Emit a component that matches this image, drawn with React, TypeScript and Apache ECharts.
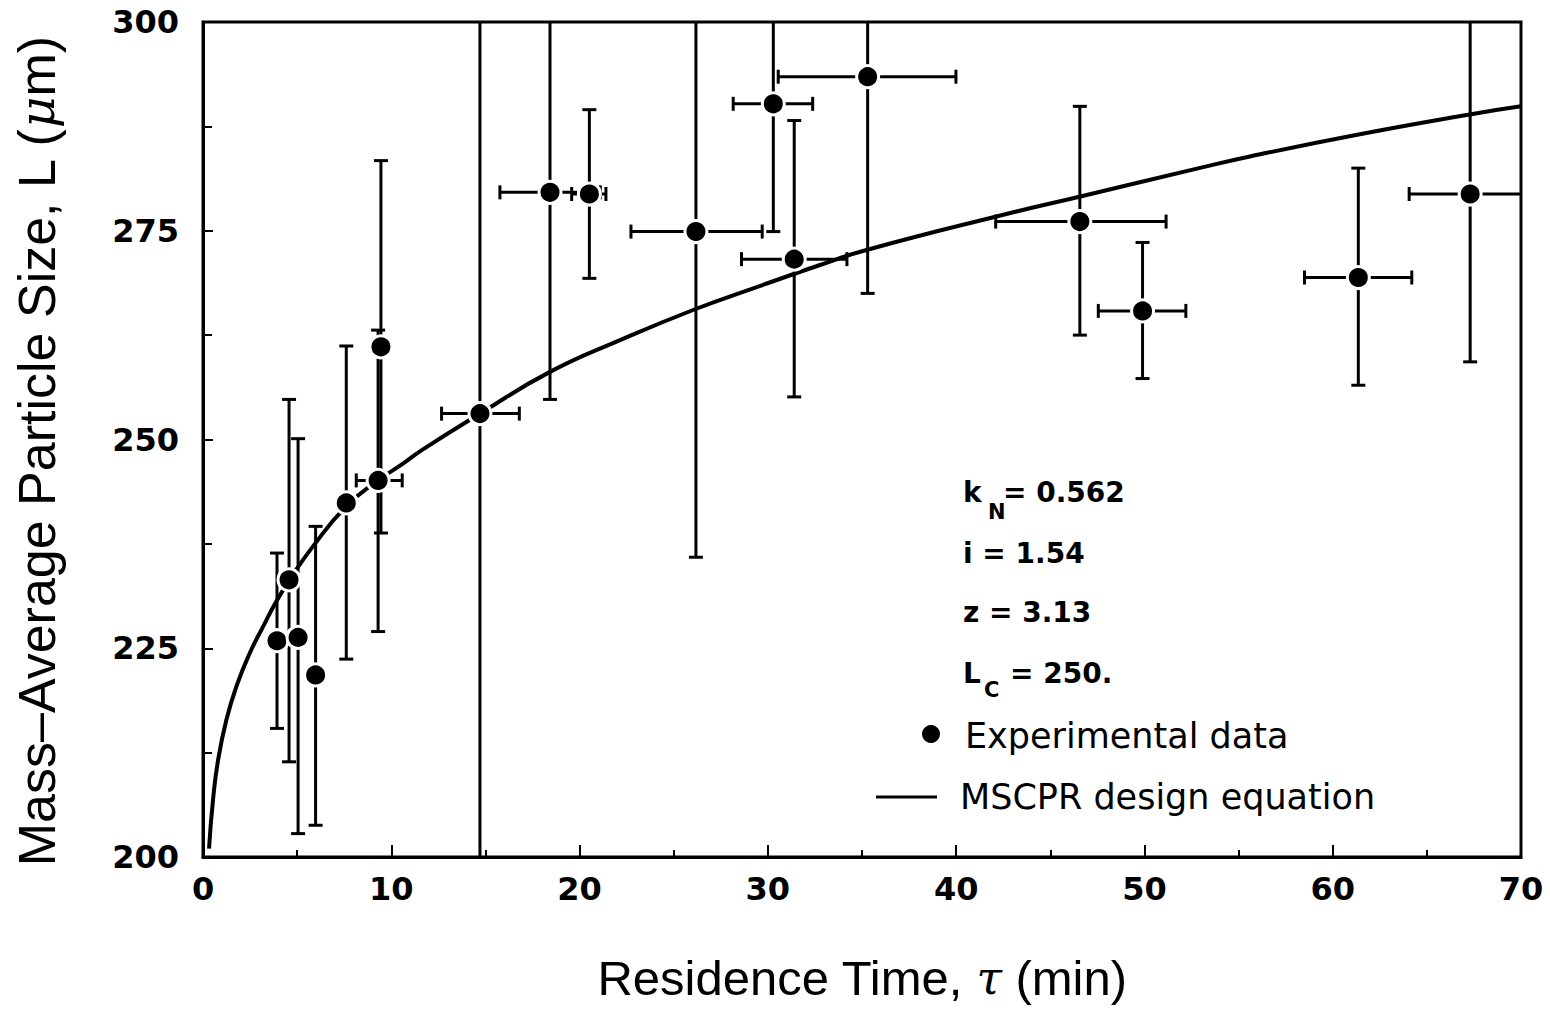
import React, { useEffect, useRef } from "react";
import * as echarts from "echarts";

// Experimental data: residence time (min) and mass-average particle size (µm)
const tau = [3.93, 4.57, 5.05, 5.98, 7.61, 9.3, 9.45, 14.71, 18.43, 20.52, 26.18, 30.29, 31.4, 35.3, 46.57, 49.9, 61.36, 67.3];
const sizeL = [225.9, 233.2, 226.3, 221.8, 242.4, 245.1, 261.1, 253.1, 279.6, 279.4, 274.9, 290.2, 271.6, 293.45, 276.1, 265.4, 269.4, 279.4];
// vertical error bars (low / high)
const sizeLo = [215.4, 211.4, 202.8, 203.8, 223.7, 227.0, 238.8, 193.0, 254.8, 269.3, 235.9, 274.9, 255.1, 267.5, 262.5, 257.3, 256.5, 259.3];
const sizeHi = [236.4, 254.8, 250.1, 239.6, 261.2, 263.1, 283.4, 313.0, 304.4, 289.5, 313.9, 305.5, 288.2, 319.4, 289.9, 273.6, 282.5, 301.0];
// horizontal error bars (low / high), null = none
const tauLo = [null, null, null, null, null, 8.14, null, 12.67, 15.77, 19.58, 22.73, 28.16, 28.6, 30.55, 42.1, 47.55, 58.5, 64.06];
const tauHi = [null, null, null, null, null, 10.58, null, 16.8, 21.1, 21.4, 29.7, 32.38, 34.2, 39.99, 51.15, 52.2, 64.2, 70.54];

// MSCPR design equation curve
const curveTau = [0.32, 0.53, 0.8, 1.24, 1.77, 2.48, 3.19, 3.89, 4.6, 5.84, 7.61, 9.29, 10.62, 11.6, 14.71, 18.43, 22.15, 26.13, 29.22, 32.77, 35.24, 42.3, 46.6, 52.9, 55.6, 61.3, 67.2, 70];
const curveL = [201.0, 206.8, 211.6, 216.4, 220.4, 224.4, 227.6, 230.6, 233.2, 237.2, 242.0, 245.1, 247.1, 248.7, 253.1, 258.1, 261.9, 265.6, 268.1, 270.9, 272.7, 276.8, 279.1, 282.5, 283.9, 286.5, 288.9, 289.9];

const xTicks = { min: 0, max: 70, interval: 10 };
const yTicks = { min: 200, max: 300, interval: 25 };

const paramLines = ["0.562", "1.54", "3.13", "250."];

const SANS = "Liberation Sans, Arial, sans-serif";
const BOLD = "DejaVu Sans, sans-serif";

export default function App() {
  const ref = useRef<HTMLDivElement>(null);
  useEffect(() => {
    if (!ref.current) return;
    const chart = echarts.init(ref.current, undefined, { renderer: "svg" });
    const capHalf = 7;
    const lw = 3;
    const annot = (text: string, x: number, y: number, size = 28) => ({
      type: "text",
      x,
      y,
      style: { text, fontFamily: BOLD, fontWeight: "bold", fontSize: size, fill: "#000", textVerticalAlign: "middle", verticalAlign: "middle" },
    });
    const option: any = {
      animation: false,
      backgroundColor: "#ffffff",
      grid: {
        left: 203,
        right: 29,
        top: 22,
        bottom: 154,
        show: true,
        borderColor: "#000",
        borderWidth: 3,
        containLabel: false,
      },
      xAxis: {
        type: "value",
        min: xTicks.min,
        max: xTicks.max,
        interval: xTicks.interval,
        name: "Residence Time, {it|τ} (min)",
        nameLocation: "middle",
        nameGap: 96,
        nameTextStyle: {
          fontFamily: SANS,
          fontSize: 49,
          color: "#000",
          rich: { it: { fontFamily: "DejaVu Serif, serif", fontStyle: "italic", fontSize: 46, color: "#000" } },
        },
        axisLine: { show: true, lineStyle: { color: "#000", width: 3 } },
        axisTick: { show: true, inside: true, length: 12, lineStyle: { color: "#000", width: 2 } },
        minorTick: { show: true, splitNumber: 2, length: 7, lineStyle: { color: "#000", width: 2 } },
        axisLabel: { margin: 16, fontFamily: BOLD, fontWeight: "bold", fontSize: 32, color: "#000" },
        splitLine: { show: false },
      },
      yAxis: {
        type: "value",
        min: yTicks.min,
        max: yTicks.max,
        interval: yTicks.interval,
        name: "Mass–Average Particle Size, L ({it|μ}m)",
        nameLocation: "middle",
        nameGap: 140,
        nameTextStyle: {
          fontFamily: SANS,
          fontSize: 52,
          color: "#000",
          padding: [0, 24, 0, 0],
          rich: { it: { fontFamily: "DejaVu Serif, serif", fontStyle: "italic", fontSize: 49, color: "#000" } },
        },
        axisLine: { show: true, lineStyle: { color: "#000", width: 3 } },
        axisTick: { show: true, inside: true, length: 10, lineStyle: { color: "#000", width: 2 } },
        minorTick: { show: true, splitNumber: 2, length: 9, lineStyle: { color: "#000", width: 2 } },
        axisLabel: { margin: 24, fontFamily: BOLD, fontWeight: "bold", fontSize: 32, color: "#000" },
        splitLine: { show: false },
      },
      series: [
        {
          name: "MSCPR design equation",
          type: "line",
          data: curveTau.map((t, i) => [t, curveL[i]]),
          smooth: 0.5,
          showSymbol: false,
          symbol: "none",
          lineStyle: { color: "#000", width: 4 },
          z: 2,
        },
        {
          name: "error bars",
          type: "custom",
          clip: true,
          data: tau.map((t, i) => [t, sizeL[i]]),
          renderItem: (params: any, api: any) => {
            const i = params.dataIndex;
            const children: any[] = [];
            const line = (x1: number, y1: number, x2: number, y2: number) =>
              children.push({
                type: "line",
                shape: { x1, y1, x2, y2 },
                style: { stroke: "#000", lineWidth: lw },
              });
            const bot = api.coord([tau[i], sizeLo[i]]);
            const top = api.coord([tau[i], sizeHi[i]]);
            line(bot[0], bot[1], top[0], top[1]);
            line(bot[0] - capHalf, bot[1], bot[0] + capHalf, bot[1]);
            line(top[0] - capHalf, top[1], top[0] + capHalf, top[1]);
            if (tauLo[i] != null && tauHi[i] != null) {
              const l = api.coord([tauLo[i], sizeL[i]]);
              const r = api.coord([tauHi[i], sizeL[i]]);
              line(l[0], l[1], r[0], r[1]);
              line(l[0], l[1] - capHalf, l[0], l[1] + capHalf);
              line(r[0], r[1] - capHalf, r[0], r[1] + capHalf);
            }
            return { type: "group", children };
          },
          z: 3,
        },
        {
          name: "Experimental data",
          type: "scatter",
          data: tau.map((t, i) => [t, sizeL[i]]),
          symbol: "circle",
          symbolSize: 22,
          itemStyle: { color: "#000", opacity: 1, borderColor: "#fff", borderWidth: 3 },
          z: 4,
        },
      ],
      graphic: [
        // parameter annotations
        annot("k", 963, 492),
        annot("N", 988, 512, 21),
        annot("= " + paramLines[0], 1003, 492),
        annot("i = " + paramLines[1], 963, 553),
        annot("z = " + paramLines[2], 963, 612),
        annot("L", 963, 673),
        annot("C", 984, 690, 21),
        annot("= " + paramLines[3], 1010, 673),
        // legend
        { type: "circle", shape: { cx: 931, cy: 734, r: 9 }, style: { fill: "#000" } },
        { type: "text", x: 965, y: 736, style: { text: "Experimental data", fontFamily: "DejaVu Sans, sans-serif", fontSize: 35, fill: "#000", textVerticalAlign: "middle", verticalAlign: "middle" } },
        { type: "line", shape: { x1: 876, y1: 797, x2: 937, y2: 797 }, style: { stroke: "#000", lineWidth: 3 } },
        { type: "text", x: 960, y: 797, style: { text: "MSCPR design equation", fontFamily: "DejaVu Sans, sans-serif", fontSize: 35, fill: "#000", textVerticalAlign: "middle", verticalAlign: "middle" } },
      ],
    };
    chart.setOption(option);
    return () => chart.dispose();
  }, []);
  return <div ref={ref} style={{ position: "fixed", left: 0, top: 0, width: 1550, height: 1011, background: "#fff" }} />;
}
